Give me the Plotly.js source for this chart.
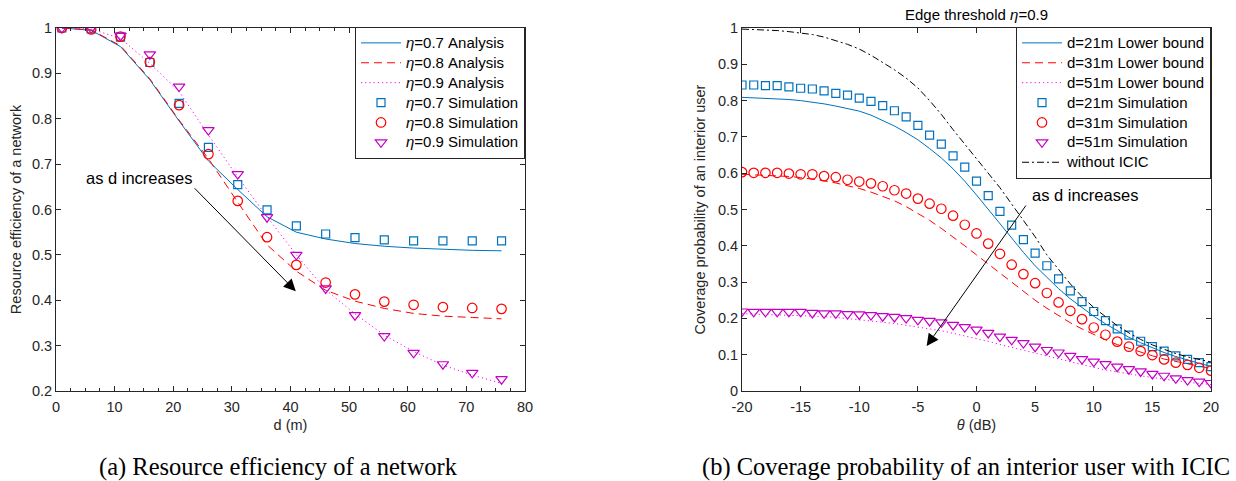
<!DOCTYPE html>
<html>
<head>
<meta charset="utf-8">
<script src="https://cdn.plot.ly/plotly-3.0.1.min.js"></script>
<style>html,body{margin:0;padding:0;background:#fff;}#chart{width:1236px;height:481px;}</style>
</head>
<body>
<div id="chart"></div>
<script>
// ---------- (a) Resource efficiency of a network ----------
const dVals = [1, 6, 11, 16, 21, 26, 31, 36, 41, 46, 51, 56, 61, 66, 71, 76];
const effAna07 = [1.0, 0.995, 0.959, 0.886, 0.795, 0.707, 0.644, 0.584, 0.550, 0.535, 0.525, 0.519, 0.515, 0.512, 0.510, 0.509];
const effAna08 = [1.0, 0.996, 0.961, 0.888, 0.797, 0.712, 0.616, 0.522, 0.464, 0.422, 0.398, 0.382, 0.371, 0.365, 0.362, 0.359];
const effAna09 = [1.0, 0.998, 0.977, 0.922, 0.860, 0.764, 0.672, 0.584, 0.500, 0.423, 0.370, 0.323, 0.287, 0.257, 0.235, 0.217];
const effSim07 = [1.0, 0.998, 0.980, 0.924, 0.834, 0.737, 0.655, 0.599, 0.564, 0.546, 0.538, 0.533, 0.531, 0.531, 0.531, 0.531];
const effSim08 = [1.0, 0.997, 0.981, 0.925, 0.830, 0.722, 0.619, 0.539, 0.478, 0.439, 0.413, 0.397, 0.390, 0.385, 0.383, 0.381];
const effSim09 = [1.0, 1.0, 0.983, 0.942, 0.871, 0.775, 0.678, 0.583, 0.500, 0.426, 0.367, 0.321, 0.284, 0.259, 0.240, 0.226];
const effNames = ['<i>η</i>=0.7 Analysis', '<i>η</i>=0.8 Analysis', '<i>η</i>=0.9 Analysis',
                  '<i>η</i>=0.7 Simulation', '<i>η</i>=0.8 Simulation', '<i>η</i>=0.9 Simulation'];

// ---------- (b) Coverage probability of an interior user ----------
const thetaVals = [-20, -19, -18, -17, -16, -15, -14, -13, -12, -11, -10, -9, -8, -7, -6, -5, -4, -3, -2, -1, 0,
                   1, 2, 3, 4, 5, 6, 7, 8, 9, 10, 11, 12, 13, 14, 15, 16, 17, 18, 19, 20];
const covLb21 = [0.809, 0.808, 0.807, 0.805, 0.803, 0.800, 0.796, 0.791, 0.785, 0.778, 0.771, 0.760, 0.746, 0.730, 0.712, 0.692,
                 0.668, 0.642, 0.612, 0.578, 0.540, 0.500, 0.460, 0.420, 0.382, 0.345, 0.312, 0.282, 0.254, 0.229, 0.206,
                 0.185, 0.166, 0.148, 0.133, 0.119, 0.106, 0.095, 0.085, 0.076, 0.068];
const covLb31 = [0.597, 0.596, 0.595, 0.593, 0.591, 0.588, 0.584, 0.579, 0.573, 0.566, 0.558, 0.548, 0.537, 0.524, 0.508, 0.490,
                 0.470, 0.448, 0.425, 0.400, 0.375, 0.350, 0.324, 0.298, 0.273, 0.250, 0.228, 0.207, 0.188, 0.171, 0.155,
                 0.141, 0.128, 0.117, 0.106, 0.097, 0.088, 0.081, 0.074, 0.068, 0.062];
const covLb51 = [0.213, 0.212, 0.212, 0.211, 0.210, 0.209, 0.207, 0.205, 0.203, 0.200, 0.197, 0.194, 0.190, 0.186, 0.181, 0.176,
                 0.172, 0.166, 0.159, 0.152, 0.144, 0.137, 0.128, 0.120, 0.112, 0.103, 0.095, 0.087, 0.079, 0.072, 0.065,
                 0.058, 0.052, 0.047, 0.042, 0.037, 0.032, 0.028, 0.024, 0.021, 0.018];
const covSim21 = [0.843, 0.843, 0.841, 0.841, 0.838, 0.834, 0.832, 0.827, 0.820, 0.815, 0.807, 0.798, 0.786, 0.772, 0.755, 0.732,
                  0.705, 0.680, 0.648, 0.617, 0.578, 0.538, 0.495, 0.457, 0.417, 0.380, 0.345, 0.309, 0.276, 0.246, 0.219,
                  0.194, 0.171, 0.154, 0.137, 0.122, 0.110, 0.097, 0.087, 0.078, 0.067];
const covSim31 = [0.603, 0.601, 0.601, 0.601, 0.599, 0.597, 0.597, 0.592, 0.589, 0.582, 0.577, 0.572, 0.564, 0.553, 0.544, 0.530,
                  0.516, 0.502, 0.483, 0.458, 0.434, 0.406, 0.378, 0.348, 0.322, 0.297, 0.270, 0.244, 0.221, 0.198, 0.175,
                  0.155, 0.136, 0.122, 0.110, 0.099, 0.087, 0.078, 0.072, 0.064, 0.056];
const covSim51 = [0.219, 0.218, 0.218, 0.218, 0.218, 0.218, 0.215, 0.214, 0.214, 0.212, 0.211, 0.209, 0.206, 0.204, 0.201, 0.196,
                  0.193, 0.189, 0.182, 0.176, 0.169, 0.160, 0.150, 0.141, 0.132, 0.122, 0.113, 0.106, 0.097, 0.088, 0.081,
                  0.074, 0.067, 0.060, 0.054, 0.047, 0.042, 0.035, 0.030, 0.026, 0.022];
const covNoIcic = [0.997, 0.996, 0.995, 0.993, 0.990, 0.987, 0.982, 0.975, 0.966, 0.955, 0.942, 0.925, 0.905, 0.885, 0.862, 0.835,
                   0.800, 0.762, 0.720, 0.680, 0.640, 0.600, 0.560, 0.515, 0.470, 0.425, 0.375, 0.335, 0.295, 0.260, 0.230,
                   0.205, 0.180, 0.160, 0.142, 0.127, 0.114, 0.103, 0.094, 0.087, 0.080];
const covNames = ['d=21m Lower bound', 'd=31m Lower bound', 'd=51m Lower bound',
                  'd=21m Simulation', 'd=31m Simulation', 'd=51m Simulation', 'without ICIC'];
const thetaTickVals = [-20, -15, -10, -5, 0, 5, 10, 15, 20];
const thetaTickText = ['-20', '-15', '-10', '-5', '0', '5', '10', '15', '20'];

// ---------- styling ----------
const BLUE = '#0072BD', RED = '#FF0000', MAG = '#FF00FF', MAGM = '#C400C4', AX = '#262626';
const FONT = 'Liberation Sans, Arial, Helvetica, sans-serif';
const legText = s => '<span style="font-size:15px">' + s + '</span>';

function line(x, y, name, color, dash, xa, ya, lg) {
  return {x: x, y: y, name: legText(name), type: 'scatter', mode: 'lines',
          line: {color: color, width: 1, dash: dash}, xaxis: xa, yaxis: ya, legend: lg};
}
function mark(x, y, name, color, symbol, size, xa, ya, lg) {
  return {x: x, y: y, name: legText(name), type: 'scatter', mode: 'markers',
          marker: {color: color, symbol: symbol, size: size, line: {color: color, width: 1.2}},
          xaxis: xa, yaxis: ya, legend: lg};
}

const traces = [
  line(dVals, effAna07, effNames[0], BLUE, 'solid', 'x', 'y', 'legend'),
  line(dVals, effAna08, effNames[1], RED, '8px,5px', 'x', 'y', 'legend'),
  line(dVals, effAna09, effNames[2], MAG, '1.2px,3px', 'x', 'y', 'legend'),
  mark(dVals, effSim07, effNames[3], BLUE, 'square-open', 8, 'x', 'y', 'legend'),
  mark(dVals, effSim08, effNames[4], RED, 'circle-open', 9.5, 'x', 'y', 'legend'),
  mark(dVals, effSim09, effNames[5], MAGM, 'triangle-down-open', 10, 'x', 'y', 'legend'),
  line(thetaVals, covLb21, covNames[0], BLUE, 'solid', 'x2', 'y2', 'legend2'),
  line(thetaVals, covLb31, covNames[1], RED, '8px,5px', 'x2', 'y2', 'legend2'),
  line(thetaVals, covLb51, covNames[2], MAG, '1.2px,3px', 'x2', 'y2', 'legend2'),
  mark(thetaVals, covSim21, covNames[3], BLUE, 'square-open', 8, 'x2', 'y2', 'legend2'),
  mark(thetaVals, covSim31, covNames[4], RED, 'circle-open', 9.5, 'x2', 'y2', 'legend2'),
  mark(thetaVals, covSim51, covNames[5], MAGM, 'triangle-down-open', 10, 'x2', 'y2', 'legend2'),
  line(thetaVals, covNoIcic, covNames[6], '#000000', '7px,3px,2px,3px', 'x2', 'y2', 'legend2')
];

const axBase = {
  ticks: 'inside', ticklen: 5, tickwidth: 1, tickcolor: AX,
  showline: true, linecolor: AX, linewidth: 1, mirror: 'ticks',
  zeroline: false, showgrid: false, automargin: false,
  tickfont: {family: FONT, size: 14.5, color: AX}
};
const legBase = {
  xanchor: 'right', yanchor: 'top', y: 1.003, bgcolor: '#ffffff',
  bordercolor: AX, borderwidth: 1, itemwidth: 40, tracegroupgap: 0,
  font: {family: FONT, size: 13, color: '#000'}
};

const layout = {
  width: 1236, height: 481,
  margin: {l: 56, r: 25, t: 28, b: 90},
  paper_bgcolor: '#fff', plot_bgcolor: '#fff',
  font: {family: FONT, color: AX},
  showlegend: true,
  title: {text: 'Edge threshold <i>η</i>=0.9', font: {family: FONT, size: 15, color: '#000'},
          x: 976.5 / 1236, xanchor: 'center', xref: 'container', y: 1 - 15 / 481, yanchor: 'middle', yref: 'container'},
  xaxis: Object.assign({}, axBase, {
    domain: [0, 0.40606], range: [0, 80], tickmode: 'linear', tick0: 0, dtick: 10, ticklabelstandoff: 3,
    minor: {dtick: 2.5, ticks: 'inside', ticklen: 3, tickcolor: AX, showgrid: false},
    title: {text: 'd (m)', standoff: 5, font: {family: FONT, size: 14.5, color: AX}}
  }),
  yaxis: Object.assign({}, axBase, {
    domain: [0, 1], range: [0.2, 1], tickmode: 'linear', tick0: 0.2, dtick: 0.1,
    title: {text: 'Resource efficiency of a network', standoff: 6, font: {family: FONT, size: 14.5, color: AX}}
  }),
  xaxis2: Object.assign({}, axBase, {
    domain: [0.59394, 1], range: [-20, 20], anchor: 'y2', ticklabelstandoff: 3,
    tickmode: 'array', tickvals: thetaTickVals, ticktext: thetaTickText,
    title: {text: '<i>θ</i> (dB)', standoff: 5, font: {family: FONT, size: 14.5, color: AX}}
  }),
  yaxis2: Object.assign({}, axBase, {
    domain: [0, 1], range: [0, 1], anchor: 'x2', tickmode: 'linear', tick0: 0, dtick: 0.1,
    title: {text: 'Coverage probability of an interior user', standoff: 8, font: {family: FONT, size: 14.5, color: AX}}
  }),
  legend: Object.assign({}, legBase, {x: 0.40606}),
  legend2: Object.assign({}, legBase, {x: 1}),
  annotations: [
    {xref: 'x', yref: 'y', x: 40.9, y: 0.42, ax: 23.4, ay: 0.65, axref: 'x', ayref: 'y',
     showarrow: true, arrowhead: 2, arrowsize: 2.4, arrowwidth: 1, arrowcolor: '#000', text: ''},
    {xref: 'x', yref: 'y', x: 14.2, y: 0.669, text: 'as d increases', showarrow: false,
     font: {family: FONT, size: 16.5, color: '#000'}},
    {xref: 'x2', yref: 'y2', x: -4.25, y: 0.124, ax: 4.3, ay: 0.515, axref: 'x2', ayref: 'y2',
     showarrow: true, arrowhead: 2, arrowsize: 2.4, arrowwidth: 1, arrowcolor: '#000', text: ''},
    {xref: 'x2', yref: 'y2', x: 9.25, y: 0.541, text: 'as d increases', showarrow: false,
     font: {family: FONT, size: 16.5, color: '#000'}},
    {xref: 'paper', yref: 'paper', x: 0.193, y: -0.209, xanchor: 'center', yanchor: 'middle', showarrow: false,
     text: '(a) Resource efficiency of a network', font: {family: 'Liberation Serif, Times New Roman, serif', size: 24.5, color: '#000'}},
    {xref: 'paper', yref: 'paper', x: 0.7877, y: -0.209, xanchor: 'center', yanchor: 'middle', showarrow: false,
     text: '(b) Coverage probability of an interior user with ICIC', font: {family: 'Liberation Serif, Times New Roman, serif', size: 24.5, color: '#000'}}
  ]
};

Plotly.newPlot('chart', traces, layout, {displayModeBar: false, responsive: false});
</script>
</body>
</html>
